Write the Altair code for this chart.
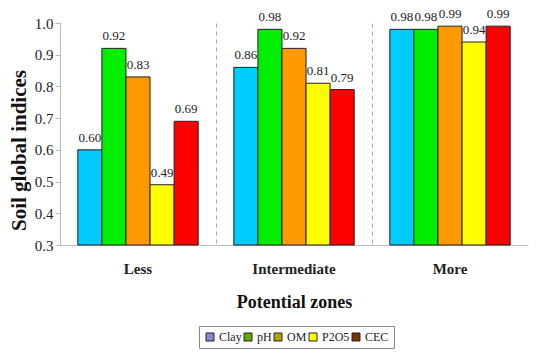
import altair as alt
import pandas as pd

zones = ["Less", "Intermediate", "More"]
params = ["Clay", "pH", "OM", "P2O5", "CEC"]
colors = ["#00CCFF", "#00EE00", "#FF9900", "#FFFF00", "#FF0000"]
legend_colors = ["#8888D0", "#66A800", "#B0A800", "#FFFF00", "#7A3300"]
less_vals = [0.60, 0.92, 0.83, 0.49, 0.69]
inter_vals = [0.86, 0.98, 0.92, 0.81, 0.79]
more_vals = [0.98, 0.98, 0.99, 0.94, 0.99]
y_ticks = [0.3, 0.4, 0.5, 0.6, 0.7, 0.8, 0.9, 1.0]

rows = []
for z, vals in zip(zones, [less_vals, inter_vals, more_vals]):
    for p, v in zip(params, vals):
        rows.append({"zone": z, "param": p, "value": v})
df = pd.DataFrame(rows)

FONT = "Liberation Serif"

x = alt.X("zone:N", sort=zones, title="Potential zones",
          scale=alt.Scale(paddingInner=0, paddingOuter=0),
          axis=alt.Axis(labelAngle=0, labelFontWeight="bold", labelFontSize=15,
                        labelColor="#222", labelPadding=16, ticks=False,
                        domainColor="#bbb", titleFontSize=18, titleFontWeight="bold",
                        titlePadding=17, titleColor="#111",
                        grid=True, gridDash=[4, 4], gridColor="#aaa", bandPosition=0))
xo = alt.XOffset("param:N", sort=params,
                 scale=alt.Scale(paddingInner=0, paddingOuter=0.74))
yaxis = alt.Axis(values=y_ticks, format=".1f",
                 grid=False, labelFontSize=15, labelColor="#222", labelOverlap=False,
                 domainColor="#bbb", tickColor="#bbb", tickSize=5,
                 titleFontSize=21, titleFontWeight="bold", titleColor="#111",
                 titlePadding=5, titleY=127)
y = alt.Y("value:Q", title="Soil global indices",
          scale=alt.Scale(domain=[0.3, 1.0], zero=False, nice=False), axis=yaxis)

bars = alt.Chart(df).mark_bar(stroke="#222", strokeWidth=1).encode(
    x=x, xOffset=xo, y=y, y2=alt.datum(0.3),
    color=alt.Color("param:N", sort=params,
                    scale=alt.Scale(domain=params, range=colors), legend=None),
)

legend_layer = alt.Chart(df).mark_square(opacity=0).encode(
    x=alt.X("zone:N", sort=zones), xOffset=alt.XOffset("param:N", sort=params),
    y=alt.Y("value:Q", axis=yaxis),
    fill=alt.Fill("param:N", sort=params,
                  scale=alt.Scale(domain=params, range=legend_colors),
                  legend=alt.Legend(title=None, orient="none", legendX=139, legendY=303,
                                    direction="horizontal", gridAlign="none",
                                    symbolType="square", symbolSize=64,
                                    symbolStrokeColor="#222", symbolStrokeWidth=1,
                                    symbolOpacity=1, labelOffset=3,
                                    labelFontSize=12, labelColor="#222",
                                    strokeColor="#888", padding=5,
                                    columnPadding=0, symbolOffset=0)),
)

labels = alt.Chart(df).mark_text(baseline="middle", dy=-12, fontSize=13,
                                 color="#222", font=FONT).encode(
    x=alt.X("zone:N", sort=zones), xOffset=alt.XOffset("param:N", sort=params),
    y=alt.Y("value:Q", axis=yaxis), text=alt.Text("value:Q", format=".2f"))

chart = alt.layer(bars, legend_layer, labels).resolve_scale(
    color="independent", fill="independent"
).properties(
    width=468, height=222,
    autosize=alt.AutoSizeParams(type="none"),
    padding={"left": 52, "top": 15, "right": 14, "bottom": 114},
).configure(font=FONT).configure_view(stroke=None).configure_axisY(labelOverlap=False)

chart.save("out.html", embed_options={"renderer": "svg", "actions": False})
